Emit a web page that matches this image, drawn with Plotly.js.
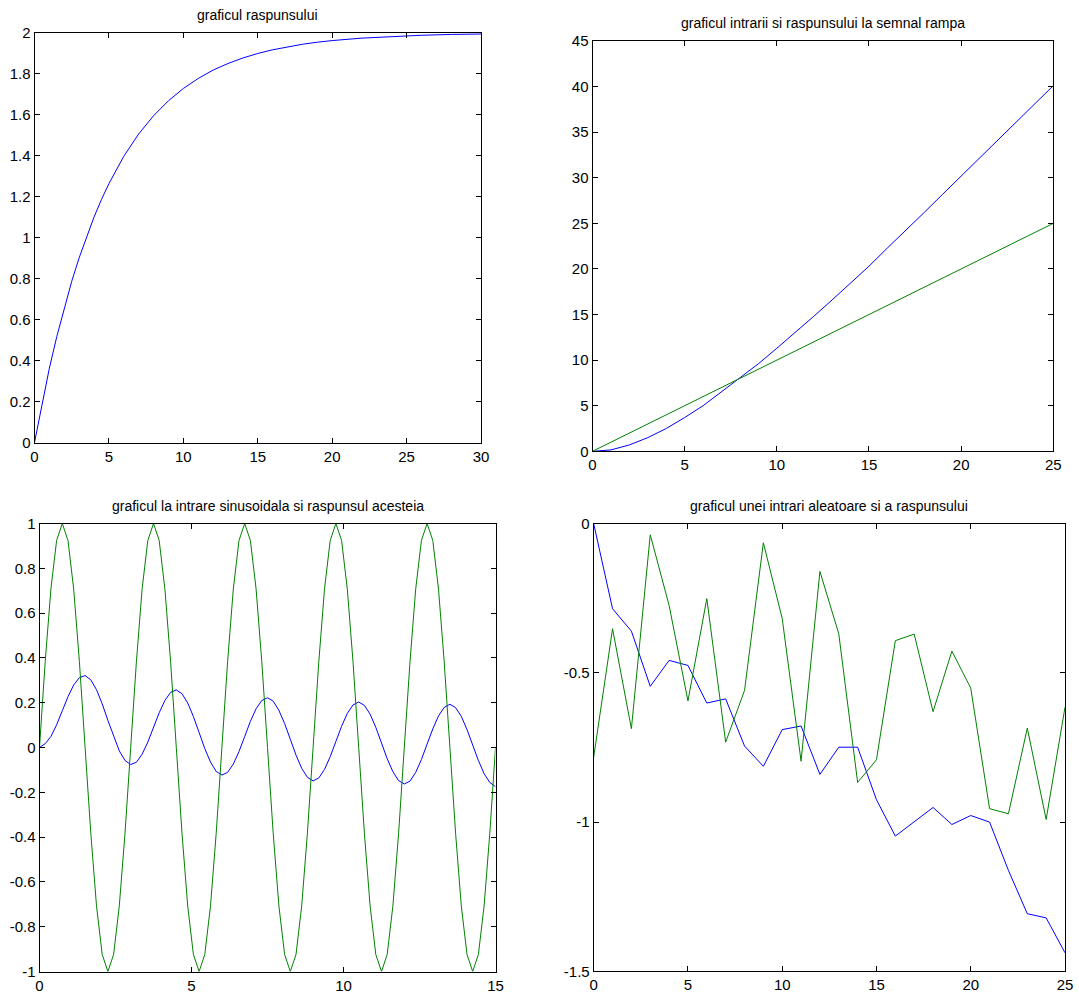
<!DOCTYPE html>
<html>
<head>
<meta charset="utf-8">
<script src="https://cdn.plot.ly/plotly-3.0.1.min.js"></script>
<style>html,body{margin:0;padding:0;background:#fff;}#chart{width:1079px;height:996px;}</style>
</head>
<body>
<div id="chart"></div>
<script>
// ---- Data ----
var titles = [
  "graficul raspunsului",
  "graficul intrarii si raspunsului la semnal rampa",
  "graficul la intrare sinusoidala si raspunsul acesteia",
  "graficul unei intrari aleatoare si a raspunsului"
];

// panel 1: step response
var stepT = [0,0.5,1,1.5,2,2.5,3,3.5,4,4.5,5,6,7,8,9,10,11,12,13,14,15,16,17,18,19,20,22,24,26,28,30];
var stepY = [0,0.190,0.363,0.518,0.659,0.787,0.902,1.007,1.101,1.187,1.264,1.398,1.507,1.596,1.669,1.729,1.778,1.819,1.851,1.878,1.900,1.918,1.933,1.945,1.955,1.963,1.975,1.983,1.989,1.993,1.995];

// panel 2: ramp input and response
var rampT = [0,1,2,3,4,5,6,7,8,9,10,11,12,13,14,15,16,17,18,19,20,21,22,23,24,25];
var rampIn = [0,1,2,3,4,5,6,7,8,9,10,11,12,13,14,15,16,17,18,19,20,21,22,23,24,25];
var rampOut = [0,0.15,0.7,1.5,2.5,3.7,5.0,6.5,8.0,9.6,11.3,13.0,14.8,16.6,18.4,20.3,22.3,24.2,26.2,28.2,30.2,32.2,34.1,36.1,38.1,40.1];

// panel 3: sinusoidal input and response
var sinT = [0,0.1875,0.375,0.5625,0.75,0.9375,1.125,1.3125,1.5,1.6875,1.875,2.0625,2.25,2.4375,2.625,2.8125,
  3,3.1875,3.375,3.5625,3.75,3.9375,4.125,4.3125,4.5,4.6875,4.875,5.0625,5.25,5.4375,5.625,5.8125,
  6,6.1875,6.375,6.5625,6.75,6.9375,7.125,7.3125,7.5,7.6875,7.875,8.0625,8.25,8.4375,8.625,8.8125,
  9,9.1875,9.375,9.5625,9.75,9.9375,10.125,10.3125,10.5,10.6875,10.875,11.0625,11.25,11.4375,11.625,11.8125,
  12,12.1875,12.375,12.5625,12.75,12.9375,13.125,13.3125,13.5,13.6875,13.875,14.0625,14.25,14.4375,14.625,14.8125,15];
var sinIn = [0,0.383,0.707,0.924,1,0.924,0.707,0.383,0,-0.383,-0.707,-0.924,-1,-0.924,-0.707,-0.383,
  0,0.383,0.707,0.924,1,0.924,0.707,0.383,0,-0.383,-0.707,-0.924,-1,-0.924,-0.707,-0.383,
  0,0.383,0.707,0.924,1,0.924,0.707,0.383,0,-0.383,-0.707,-0.924,-1,-0.924,-0.707,-0.383,
  0,0.383,0.707,0.924,1,0.924,0.707,0.383,0,-0.383,-0.707,-0.924,-1,-0.924,-0.707,-0.383,
  0,0.383,0.707,0.924,1,0.924,0.707,0.383,0,-0.383,-0.707,-0.924,-1,-0.924,-0.707,-0.383,0];
var sinOut = [0,0.017,0.049,0.101,0.164,0.227,0.279,0.312,0.321,0.302,0.258,0.195,0.121,0.048,-0.015,-0.058,
  -0.076,-0.066,-0.030,0.024,0.090,0.155,0.210,0.246,0.257,0.240,0.199,0.138,0.067,-0.005,-0.065,-0.107,
  -0.123,-0.111,-0.074,-0.018,0.049,0.117,0.173,0.210,0.222,0.207,0.166,0.107,0.037,-0.034,-0.093,-0.133,
  -0.149,-0.136,-0.098,-0.041,0.027,0.095,0.152,0.190,0.203,0.188,0.149,0.090,0.020,-0.050,-0.108,-0.148,
  -0.163,-0.150,-0.111,-0.054,0.015,0.083,0.141,0.179,0.193,0.178,0.139,0.080,0.011,-0.058,-0.117,-0.156,-0.175];

// panel 4: random input and response
var rndT = [0,1,2,3,4,5,6,7,8,9,10,11,12,13,14,15,16,17,18,19,20,21,22,23,24,25];
var rndIn = [-0.782,-0.352,-0.687,-0.037,-0.274,-0.594,-0.251,-0.732,-0.559,-0.064,-0.318,-0.796,-0.160,-0.369,-0.867,-0.791,-0.392,-0.370,-0.630,-0.427,-0.551,-0.955,-0.972,-0.685,-0.991,-0.615];
var rndOut = [0,-0.285,-0.360,-0.545,-0.458,-0.475,-0.601,-0.587,-0.745,-0.813,-0.690,-0.678,-0.840,-0.749,-0.749,-0.925,-1.047,-0.998,-0.951,-1.008,-0.978,-1.000,-1.162,-1.307,-1.321,-1.438];

// tick labels
var yTick1 = [0,0.2,0.4,0.6,0.8,1,1.2,1.4,1.6,1.8,2];
var yTick1Txt = ["0","0.2","0.4","0.6","0.8","1","1.2","1.4","1.6","1.8","2"];
var yTick2 = [0,5,10,15,20,25,30,35,40,45];
var yTick3 = [-1,-0.8,-0.6,-0.4,-0.2,0,0.2,0.4,0.6,0.8,1];
var yTick3Txt = ["-1","-0.8","-0.6","-0.4","-0.2","0","0.2","0.4","0.6","0.8","1"];
var yTick4 = [-1.5,-1,-0.5,0];
var yTick4Txt = ["-1.5","-1","-0.5","0"];

// ---- Layout ----
var W = 1079, H = 996;
var BLUE = "rgb(0,0,255)", GREEN = "rgb(0,128,0)";
var FONT = "'Liberation Sans Narrow', 'Arial Narrow', 'Liberation Sans', Arial, sans-serif";
// pixel boxes [left, top, right, bottom]
var boxes = [
  [34.5, 33, 481, 442.5],
  [592.5, 41, 1053.3, 451.3],
  [39.5, 523.5, 495.5, 971.5],
  [593.7, 523.7, 1065, 971.3]
];
function xd(b){return [b[0]/W, b[2]/W];}
function yd(b){return [1-b[3]/H, 1-b[1]/H];}
function axBase(){
  return {showline:true, linecolor:"#000", linewidth:1, mirror:"ticks", ticks:"inside", ticklen:5,
          tickcolor:"#000", showgrid:false, zeroline:false, tickfont:{family:FONT, size:15, color:"#000"}};
}
function ax(extra){var a=axBase(); for (var k in extra) a[k]=extra[k]; return a;}

var traces = [
  {x:stepT, y:stepY, type:"scatter", mode:"lines", line:{color:BLUE,width:1}, xaxis:"x", yaxis:"y"},
  {x:rampT, y:rampOut, type:"scatter", mode:"lines", line:{color:BLUE,width:1}, xaxis:"x2", yaxis:"y2"},
  {x:rampT, y:rampIn, type:"scatter", mode:"lines", line:{color:GREEN,width:1}, xaxis:"x2", yaxis:"y2"},
  {x:sinT, y:sinOut, type:"scatter", mode:"lines", line:{color:BLUE,width:1}, xaxis:"x3", yaxis:"y3"},
  {x:sinT, y:sinIn, type:"scatter", mode:"lines", line:{color:GREEN,width:1}, xaxis:"x3", yaxis:"y3"},
  {x:rndT, y:rndOut, type:"scatter", mode:"lines", line:{color:BLUE,width:1}, xaxis:"x4", yaxis:"y4"},
  {x:rndT, y:rndIn, type:"scatter", mode:"lines", line:{color:GREEN,width:1}, xaxis:"x4", yaxis:"y4"}
];

var annotations = titles.map(function(t,i){
  var b = boxes[i];
  return {text:t, xref:"paper", yref:"paper", x:(b[0]+b[2])/2/W, y:1-(b[1]-8)/H,
          xanchor:"center", yanchor:"bottom", showarrow:false, font:{family:FONT, size:14, color:"#000"}};
});

var layout = {
  width:W, height:H, margin:{l:0,r:0,t:0,b:0}, paper_bgcolor:"#fff", plot_bgcolor:"#fff",
  showlegend:false, font:{family:FONT, color:"#000"},
  xaxis: ax({domain:xd(boxes[0]), range:[0,30], tickvals:[0,5,10,15,20,25,30], anchor:"y"}),
  yaxis: ax({domain:yd(boxes[0]), range:[0,2], tickvals:yTick1, ticktext:yTick1Txt, anchor:"x"}),
  xaxis2: ax({domain:xd(boxes[1]), range:[0,25], tickvals:[0,5,10,15,20,25], anchor:"y2"}),
  yaxis2: ax({domain:yd(boxes[1]), range:[0,45], tickvals:yTick2, anchor:"x2"}),
  xaxis3: ax({domain:xd(boxes[2]), range:[0,15], tickvals:[0,5,10,15], anchor:"y3"}),
  yaxis3: ax({domain:yd(boxes[2]), range:[-1,1], tickvals:yTick3, ticktext:yTick3Txt, anchor:"x3"}),
  xaxis4: ax({domain:xd(boxes[3]), range:[0,25], tickvals:[0,5,10,15,20,25], anchor:"y4"}),
  yaxis4: ax({domain:yd(boxes[3]), range:[-1.5,0], tickvals:yTick4, ticktext:yTick4Txt, anchor:"x4"}),
  annotations: annotations
};

Plotly.newPlot("chart", traces, layout, {displayModeBar:false, staticPlot:true});
</script>
</body>
</html>
